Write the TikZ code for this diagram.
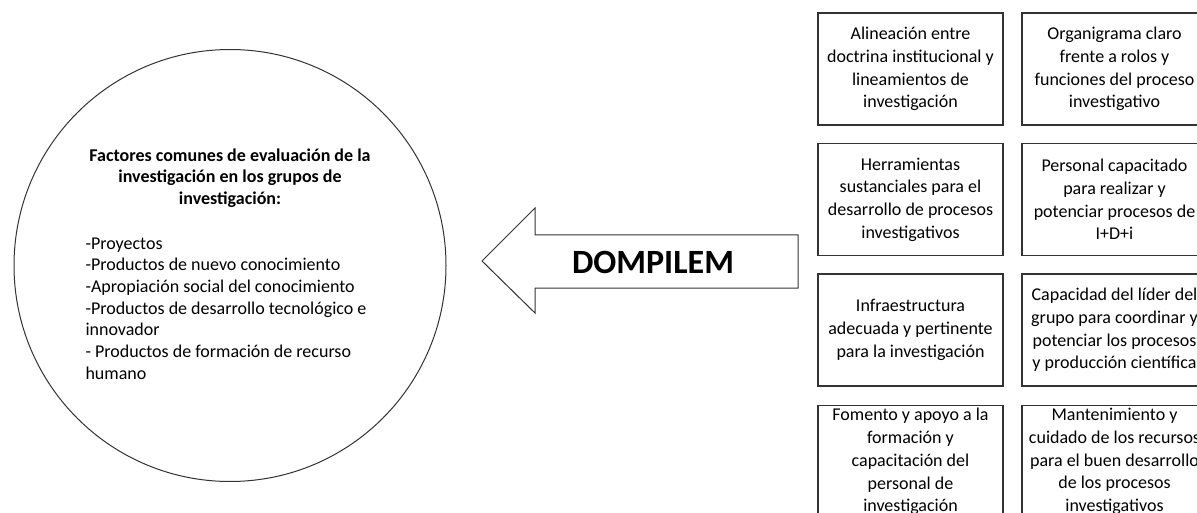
\documentclass[tikz,border=0pt]{standalone}
\usepackage{fontspec}
\setmainfont{Carlito}
\begin{document}
\begin{tikzpicture}[x=1pt, y=-1pt, line width=1pt, every node/.style={font=\fontsize{18}{22.7}\selectfont},
  box/.style={draw=black!80, line width=1.2pt, align=center, minimum width=185pt, minimum height=112pt, inner sep=3pt},
  bigcircle/.style={circle, draw=black!80, minimum size=432pt, inner sep=0pt}]
\clip (0,0) rectangle (1197,513);

% circle with the factors
\node[bigcircle] (factores) at (230,265.5) {};
\node[align=center, font=\fontsize{18}{21.7}\selectfont\bfseries] (titulo) at (230,178)
  {Factores comunes de evaluación de la\\investigación en los grupos de\\investigación:};
\node[align=left, anchor=north west, inner sep=0pt, font=\fontsize{18}{21.7}\selectfont] (lista) at (85,237)
  {-Proyectos\\-Productos de nuevo conocimiento\\-Apropiación social del conocimiento\\-Productos de desarrollo tecnológico e\\innovador\\- Productos de formación de recurso\\humano};

% block arrow
\draw[draw=black!80] (482,261) -- (535,208) -- (535,235) -- (798,235) -- (798,288)
  -- (535,288) -- (535,313) -- cycle;
\node[font=\fontsize{34}{40}\selectfont\bfseries] (dompilem) at (653,262) {DOMPILEM};

% boxes
\node[box] (b1) at (910.5,69) {Alineación entre\\doctrina institucional y\\lineamientos de\\investigación};
\node[box] (b2) at (1114.5,69) {Organigrama claro\\frente a rolos y\\funciones del proceso\\investigativo};
\node[box] (b3) at (910.5,199.5) {Herramientas\\sustanciales para el\\desarrollo de procesos\\investigativos};
\node[box] (b4) at (1114.5,199.5) {Personal capacitado\\para realizar y\\potenciar procesos de\\I+D+i};
\node[box] (b5) at (910.5,330) {Infraestructura\\adecuada y pertinente\\para la investigación};
\node[box] (b6) at (1114.5,330) {Capacidad del líder del\\grupo para coordinar y\\potenciar los procesos\\y producción científica};
\node[box, anchor=north, inner sep=1pt] (b7) at (910.5,405) {Fomento y apoyo a la\\formación y\\capacitación del\\personal de\\investigación};
\node[box, anchor=north, inner sep=1pt] (b8) at (1114.5,405) {Mantenimiento y\\cuidado de los recursos\\para el buen desarrollo\\de los procesos\\investigativos};
\end{tikzpicture}
\end{document}
